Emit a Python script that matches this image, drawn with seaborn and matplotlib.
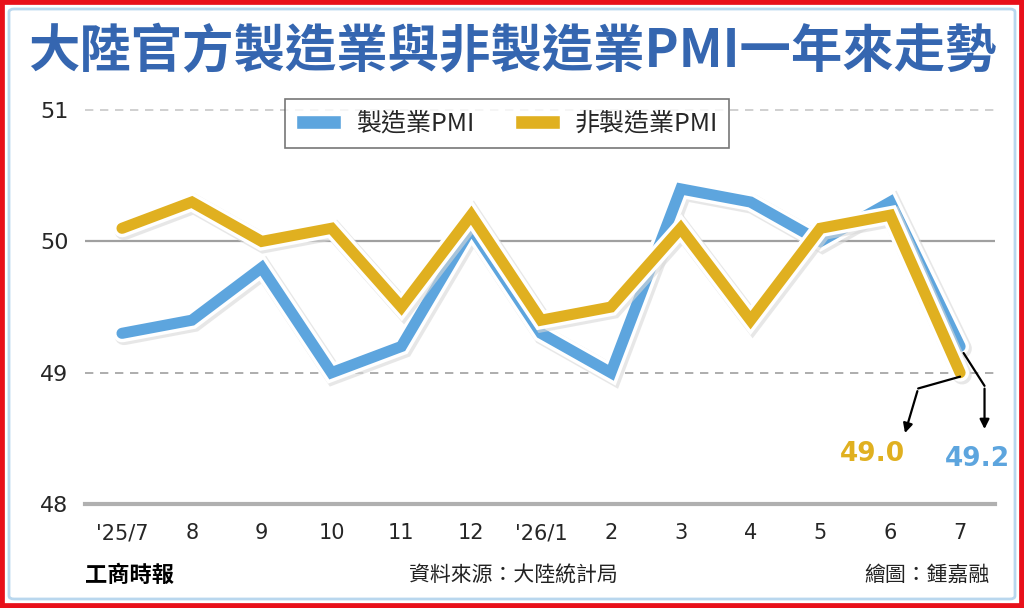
import matplotlib
matplotlib.use("Agg")
import matplotlib.pyplot as plt
import matplotlib.patheffects as pe
from matplotlib.patches import Patch, Rectangle, FancyBboxPatch
import pandas as pd
import seaborn as sns

months = ["'25/7", "8", "9", "10", "11", "12", "'26/1", "2", "3", "4", "5", "6", "7"]
mfg_pmi = [49.3, 49.4, 49.8, 49.0, 49.2, 50.1, 49.3, 49.0, 50.4, 50.3, 50.0, 50.3, 49.2]
non_mfg_pmi = [50.1, 50.3, 50.0, 50.1, 49.5, 50.2, 49.4, 49.5, 50.1, 49.4, 50.1, 50.2, 49.0]
series_names = ["製造業PMI", "非製造業PMI"]

blue = "#5DA5DE"
gold = "#E0B020"

df = pd.DataFrame({
    "x": list(range(len(months))) * 2,
    "PMI": mfg_pmi + non_mfg_pmi,
    "series": [series_names[0]] * len(months) + [series_names[1]] * len(months),
})

sns.set_theme(style="white")
plt.rcParams["font.family"] = ["Noto Sans CJK TC", "DejaVu Sans"]

fig = plt.figure(figsize=(10.24, 6.08), dpi=100)
ax = fig.add_axes([85 / 1024, 1 - 504 / 608, 910 / 1024, (504 - 97) / 608])

sns.lineplot(data=df, x="x", y="PMI", hue="series", palette=[blue, gold],
             linewidth=8, ax=ax, legend=False, zorder=5)
for line in ax.get_lines():
    line.set_solid_joinstyle("miter")
    line.set_path_effects([pe.Stroke(linewidth=14, foreground="#d8d8d8", alpha=0.6, offset=(1.5, -1.5)),
                           pe.Stroke(linewidth=13, foreground="white"),
                           pe.Normal()])

ax.set_xlim(-0.53, 12.5)
ax.set_ylim(48, 51.1)
ax.set_xticks(range(len(months)))
ax.set_xticklabels(months, fontsize=15, family="DejaVu Sans")
ax.set_yticks([48, 49, 50, 51])
ax.set_yticklabels(["48", "49", "50", "51"], fontsize=16, family="DejaVu Sans")
ax.set_xlabel("")
ax.set_ylabel("")
ax.axhline(51, color="#c8c8c8", lw=1.2, ls=(0, (5, 4)), zorder=1)
ax.axhline(50, color="#a0a0a0", lw=1.6, zorder=1)
ax.axhline(49, color="#a0a0a0", lw=1.2, ls=(0, (5, 4)), zorder=1)
for s in ["top", "right", "left"]:
    ax.spines[s].set_visible(False)
ax.spines["bottom"].set_color("#b0b0b0")
ax.spines["bottom"].set_linewidth(3)
ax.tick_params(axis="x", direction="out", length=9, width=1.2, color="#b0b0b0", pad=5)
ax.tick_params(axis="y", length=0, pad=12)
ax.patch.set_alpha(0)

# arrows to end values
ax.annotate("", xy=(11.2, 48.52), xytext=(11.4, 48.88),
            arrowprops=dict(arrowstyle="-|>", color="black", lw=1.6, mutation_scale=14))
ax.plot([12, 11.4], [48.97, 48.88], color="black", lw=1.6, zorder=6)
ax.plot([12.05, 12.35], [49.15, 48.9], color="black", lw=1.6, zorder=6)
ax.annotate("", xy=(12.35, 48.55), xytext=(12.35, 48.9),
            arrowprops=dict(arrowstyle="-|>", color="black", lw=1.6, mutation_scale=14))
ax.text(10.75, 48.38, f"{non_mfg_pmi[-1]:.1f}", color=gold, fontsize=19, fontweight="bold",
        ha="center", va="center", family="DejaVu Sans")
ax.text(12.25, 48.34, f"{mfg_pmi[-1]:.1f}", color=blue, fontsize=19, fontweight="bold",
        ha="center", va="center", family="DejaVu Sans")

handles = [Patch(facecolor=blue), Patch(facecolor=gold)]
leg = ax.legend(handles, series_names, loc="upper center", bbox_to_anchor=(0.464, 1.025),
                ncol=2, fontsize=18, frameon=True, fancybox=False, edgecolor="#555555",
                handlelength=1.8, handleheight=0.5, handletextpad=0.6, columnspacing=1.6,
                borderpad=0.45)
leg.get_frame().set_linewidth(1.2)

fig.text(0.5, 0.915, "大陸官方製造業與非製造業PMI一年來走勢", ha="center", va="center",
         fontsize=37, fontweight="bold", color="#3566B0")
fig.text(85 / 1024, 0.054, "工商時報", ha="left", va="center", fontsize=16, fontweight="black", color="black")
fig.text(513 / 1024, 0.054, "資料來源：大陸統計局", ha="center", va="center", fontsize=15, color="#222222")
fig.text(990 / 1024, 0.054, "繪圖：鍾嘉融", ha="right", va="center", fontsize=15, color="#222222")

fig.patches.append(FancyBboxPatch((9 / 1024, 9 / 608), 1006 / 1024, 590 / 608,
                                  boxstyle="round,pad=0,rounding_size=0.005", transform=fig.transFigure,
                                  facecolor="none", edgecolor="#b9d7ee", lw=2))
fig.patches.append(Rectangle((0, 0), 1, 1, transform=fig.transFigure, facecolor="none",
                             edgecolor="#e8101a", lw=7))

fig.savefig("out.png", dpi=100)
